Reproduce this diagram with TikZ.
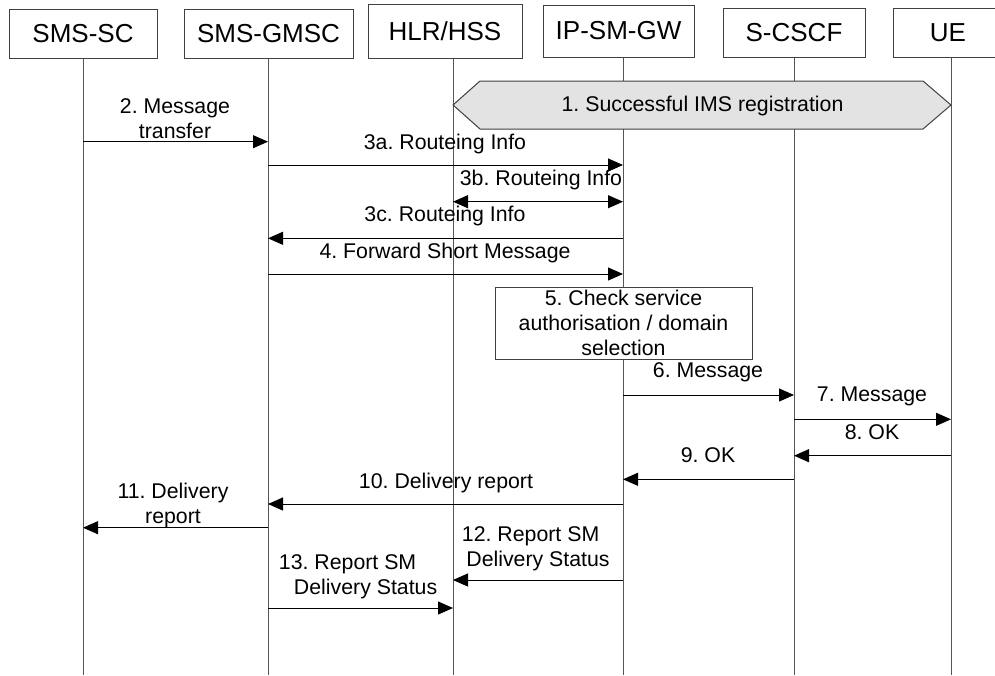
\documentclass[tikz,border=0pt]{standalone}
\usepackage{fontspec}
\setmainfont{Liberation Sans}
\usetikzlibrary{arrows.meta}
\definecolor{boxgray}{HTML}{404040}
\definecolor{linegray}{HTML}{555555}
\definecolor{hexgray}{HTML}{E3E3E3}
\frenchspacing
\begin{document}
\begin{tikzpicture}[x=0.5pt,y=-0.5pt,
  actor/.style={draw=boxgray, line width=0.5pt, fill=white, inner sep=0pt, font=\fontsize{13}{15}\selectfont},
  msg/.style={font=\fontsize{10.65}{12.5}\selectfont, align=center, inner sep=0pt},
  life/.style={draw=linegray, line width=0.5pt},
  arr/.style={draw=black, line width=0.5pt, -{Triangle[length=7.5pt,width=6.5pt]}},
  darr/.style={draw=black, line width=0.5pt, {Triangle[length=7.5pt,width=6.5pt]}-{Triangle[length=7.5pt,width=6.5pt]}},
]
\useasboundingbox (0,0) rectangle (995,675);
\clip (0,0) rectangle (995,675);

% lifeline ends
\coordinate (scT) at (83,58);   \coordinate (scB) at (83,675);
\coordinate (gmT) at (268,58);  \coordinate (gmB) at (268,675);
\coordinate (hlT) at (453,58);  \coordinate (hlB) at (453,675);
\coordinate (ipT) at (623,58);  \coordinate (ipB) at (623,675);
\coordinate (csT) at (794,58);  \coordinate (csB) at (794,675);
\coordinate (ueT) at (951,58);  \coordinate (ueB) at (951,675);
\foreach \l in {sc,gm,hl,ip,cs,ue} \draw[life] (\l T) -- (\l B);

% actors
\node[actor, minimum width=74pt, minimum height=24.5pt] (SC) at (83,33.5) {SMS-SC};
\node[actor, minimum width=84.5pt, minimum height=24.5pt] (GM) at (268.5,33.5) {SMS-GMSC};
\node[actor, minimum width=77pt, minimum height=27pt] (HL) at (445,31) {HLR/HSS};
\node[actor, minimum width=75.5pt, minimum height=26pt] (IP) at (618.5,31) {IP-SM-GW};
\node[actor, minimum width=71pt, minimum height=24.5pt] (CS) at (794,32.5) {S-CSCF};
\node[actor, minimum width=55pt, minimum height=24.5pt] (UE) at (948,32.5) {UE};

% 1. registration hexagon
\draw[draw=boxgray, line width=0.5pt, fill=hexgray]
  (453,105) -- (480,81) -- (923,81) -- (951,105) -- (923,129) -- (480,129) -- cycle;
\node[msg] (reg) at (702.5,106) {1. Successful IMS registration};

% 5. check box
\node[msg, draw=boxgray, line width=0.5pt, fill=white, minimum width=128.5pt, minimum height=36pt] (chk) at (623.5,323) {5. Check service\\authorisation / domain\\selection};

% message anchor points
\coordinate (m2a) at (83,141.7);   \coordinate (m2b) at (268,141.7);
\coordinate (m3aa) at (268,165);   \coordinate (m3ab) at (623,165);
\coordinate (m3ba) at (453,201.7); \coordinate (m3bb) at (623,201.7);
\coordinate (m3ca) at (623,238.3); \coordinate (m3cb) at (268,238.3);
\coordinate (m4a) at (268,274);    \coordinate (m4b) at (623,274);
\coordinate (m6a) at (623,395);    \coordinate (m6b) at (794,395);
\coordinate (m7a) at (794,419.3);  \coordinate (m7b) at (951,419.3);
\coordinate (m8a) at (951,455.7);  \coordinate (m8b) at (794,455.7);
\coordinate (m9a) at (794,479.3);  \coordinate (m9b) at (623,479.3);
\coordinate (m10a) at (623,504);   \coordinate (m10b) at (268,504);
\coordinate (m11a) at (268,527.7); \coordinate (m11b) at (83,527.7);
\coordinate (m12a) at (623,580);   \coordinate (m12b) at (453,580);
\coordinate (m13a) at (268,608);   \coordinate (m13b) at (453,608);

\draw[arr] (m2a) -- (m2b);
\draw[arr] (m3aa) -- (m3ab);
\draw[darr] (m3ba) -- (m3bb);
\draw[arr] (m3ca) -- (m3cb);
\draw[arr] (m4a) -- (m4b);
\draw[arr] (m6a) -- (m6b);
\draw[arr] (m7a) -- (m7b);
\draw[arr] (m8a) -- (m8b);
\draw[arr] (m9a) -- (m9b);
\draw[arr] (m10a) -- (m10b);
\draw[arr] (m11a) -- (m11b);
\draw[arr] (m12a) -- (m12b);
\draw[arr] (m13a) -- (m13b);

% labels
\node[msg] (l2) at (175,119) {2. Message\\transfer};
\node[msg] (l3a) at (445,144) {3a. Routeing Info};
\node[msg] (l3b) at (541,179.5) {3b. Routeing Info};
\node[msg] (l3c) at (445,215.5) {3c. Routeing Info};
\node[msg] (l4) at (445,253) {4. Forward Short Message};
\node[msg] (l6) at (708,372) {6. Message};
\node[msg] (l7) at (872,396.5) {7. Message};
\node[msg] (l8) at (872,432) {8. OK};
\node[msg] (l9) at (708,455) {9. OK};
\node[msg] (l10) at (446,483) {10. Delivery report};
\node[msg] (l11) at (173,505.5) {11. Delivery\\report};
\node[msg] (l12) at (534.3,549) {12. Report SM\hspace*{3.7pt}\\\hspace*{3.7pt}Delivery Status};
\node[msg] (l13) at (356.6,576.5) {13. Report SM\hspace*{9pt}\\\hspace*{9pt}Delivery Status};
\end{tikzpicture}
\end{document}
